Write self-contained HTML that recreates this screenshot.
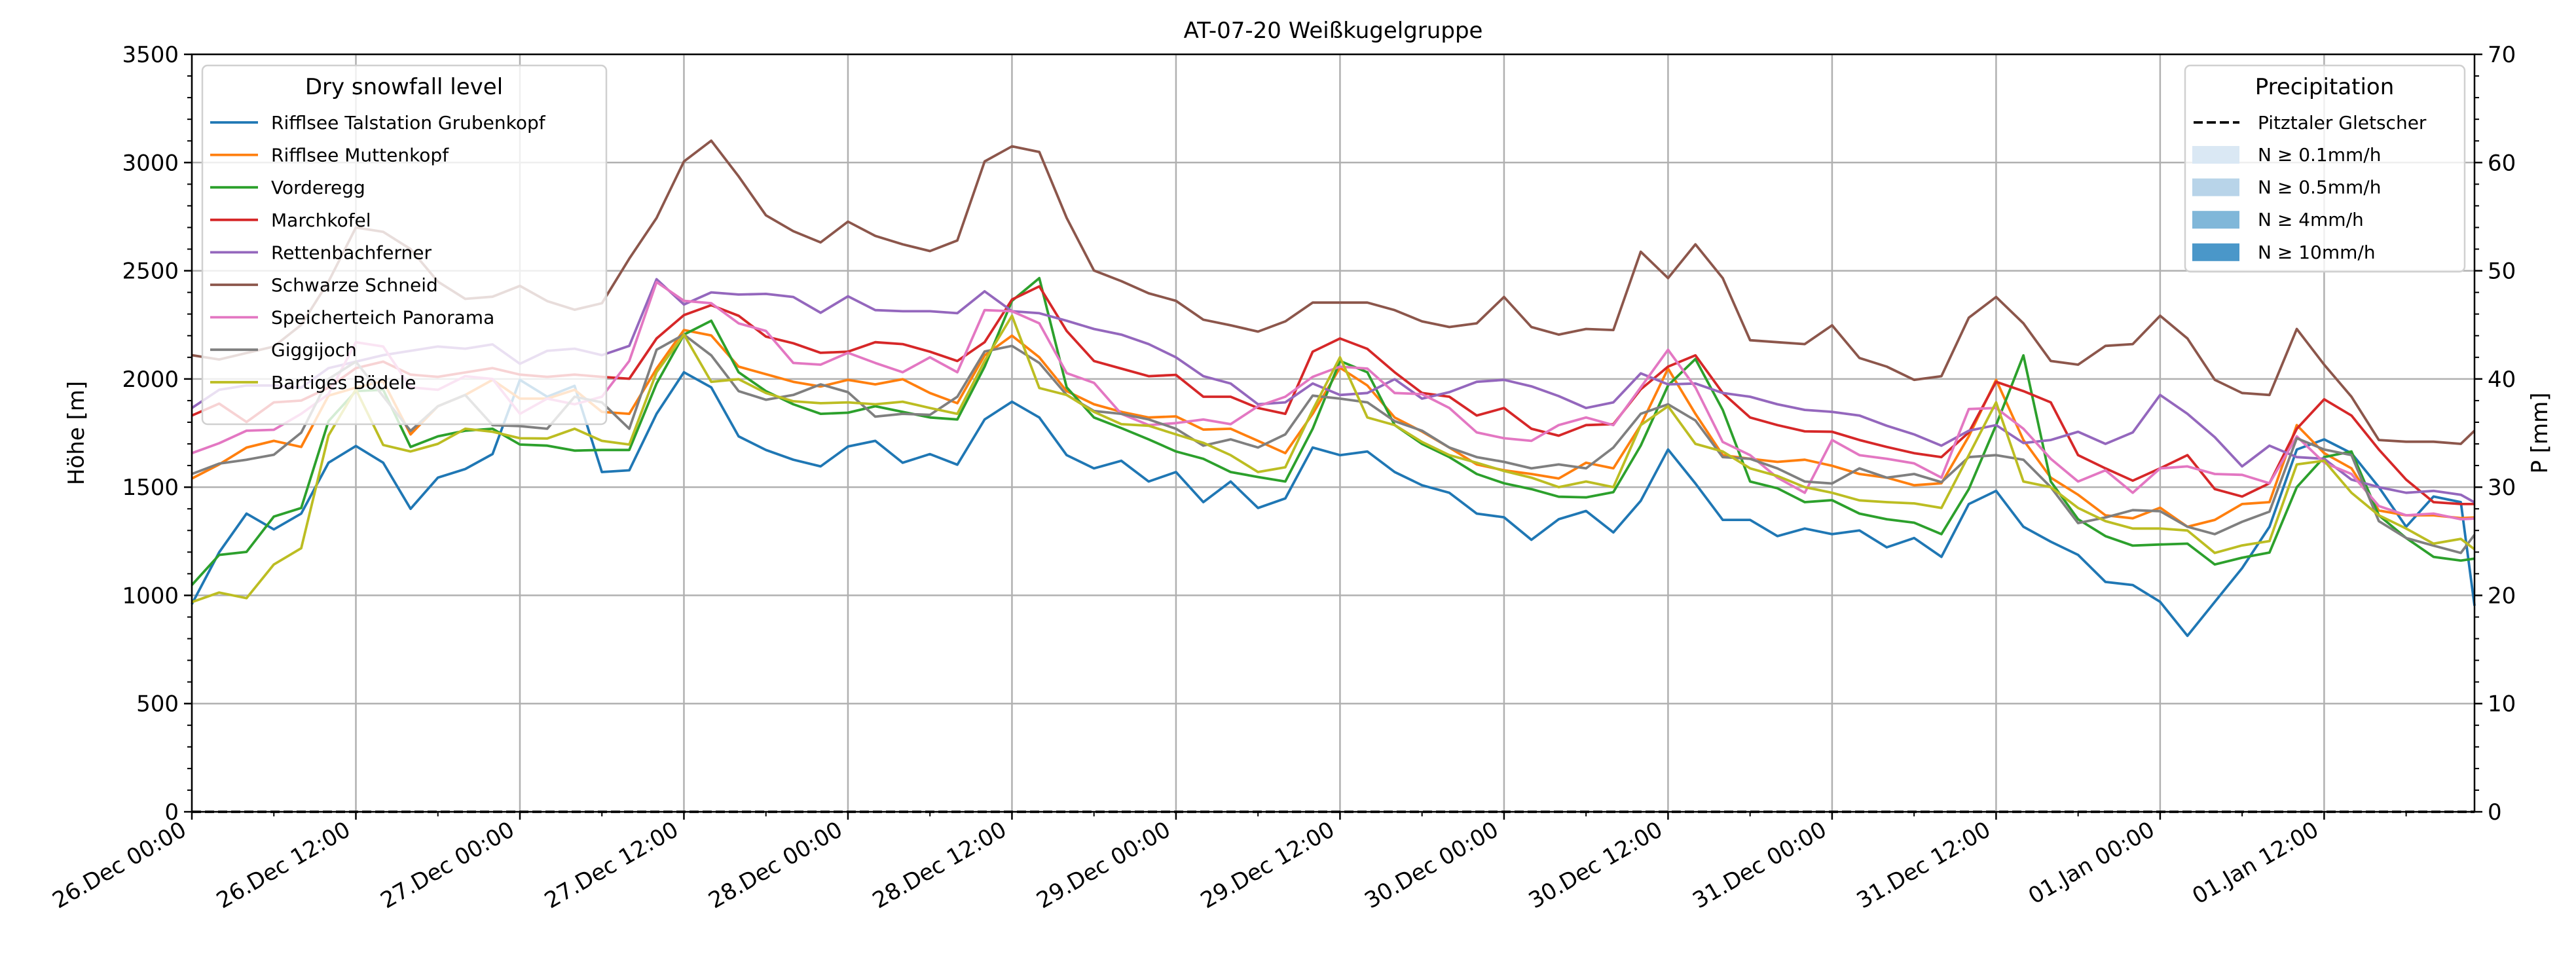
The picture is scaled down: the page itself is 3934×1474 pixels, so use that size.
<!DOCTYPE html>
<html><head><meta charset="utf-8"><style>
html,body{margin:0;padding:0;background:#fff;}
svg{display:block;font-family:"DejaVu Sans","Liberation Sans",sans-serif;}
</style></head><body>
<svg id="chart" width="3934" height="1474" viewBox="0 0 3934 1474" xmlns="http://www.w3.org/2000/svg">
<text x="2036" y="58" font-size="34" text-anchor="middle">AT-07-20 Weißkugelgruppe</text>
<g id="grid"></g><g id="series"></g><g id="axes"></g><g id="legends"></g>
</svg>
<script>
const seriesNames = ["Rifflsee Talstation Grubenkopf","Rifflsee Muttenkopf","Vorderegg","Marchkofel","Rettenbachferner","Schwarze Schneid","Speicherteich Panorama","Giggijoch","Bartiges Bödele"];
const seriesColors = ["#1f77b4","#ff7f0e","#2ca02c","#d62728","#9467bd","#8c564b","#e377c2","#7f7f7f","#bcbd22"];
const xTickLabels = ["26.Dec 00:00","26.Dec 12:00","27.Dec 00:00","27.Dec 12:00","28.Dec 00:00","28.Dec 12:00","29.Dec 00:00","29.Dec 12:00","30.Dec 00:00","30.Dec 12:00","31.Dec 00:00","31.Dec 12:00","01.Jan 00:00","01.Jan 12:00"];
const yTicks = [0,500,1000,1500,2000,2500,3000,3500];
const pTicks = [0,10,20,30,40,50,60,70];
const precipValues = [0,0];
const sBlue = [960,1199,1378,1305,1378,1613,1690,1613,1400,1544,1584,1653,1996,1918,1968,1570,1578,1839,2031,1961,1735,1672,
1627,1596,1688,1714,1613,1653,1604,1813,1895,1822,1648,1587,1622,1526,1570,1431,1526,1404,1448,1683,1648,
1665,1570,1509,1474,1378,1361,1257,1352,1390,1291,1437,1674,1517,1349,1349,1274,1309,1283,1300,1222,
1265,1178,1422,1483,1317,1248,1187,1062,1048,970,813,970,1126,1317,1674,1721,1657,1500,1317,1457,1431,952];
const sOrange = [1540,1605,1683,1714,1686,1923,1960,1990,1744,1874,1926,1996,1909,1909,1950,1848,1839,2048,2226,2201,2057,2022,
1987,1965,1996,1975,1999,1935,1888,2109,2200,2100,1944,1883,1848,1822,1827,1766,1770,1714,1657,1839,2052,
1970,1822,1757,1683,1605,1578,1561,1540,1613,1587,1787,2048,1839,1648,1631,1617,1627,1599,1561,1544,
1509,1518,1735,1996,1718,1544,1465,1370,1356,1405,1317,1349,1422,1431,1787,1657,1587,1392,1370,1370,1357,1360];
const sGreen = [1048,1187,1201,1364,1404,1805,1944,1950,1686,1735,1761,1770,1697,1692,1669,1672,1672,1979,2205,2269,2031,1944,
1883,1839,1844,1874,1848,1822,1813,2057,2361,2466,1961,1822,1773,1721,1665,1631,1570,1547,1526,1770,2083,
2031,1787,1700,1639,1561,1518,1491,1456,1453,1477,1692,1970,2092,1857,1526,1495,1431,1440,1378,1352,
1336,1283,1491,1787,2109,1526,1352,1274,1230,1235,1239,1143,1174,1198,1500,1639,1665,1370,1265,1178,1161,1170];
const sRed = [1831,1886,1801,1892,1900,1960,2050,2080,2020,2010,2030,2050,2020,2010,2020,2010,2001,2187,2295,2341,2292,2196,
2165,2121,2126,2170,2161,2126,2083,2170,2367,2428,2222,2083,2048,2013,2019,1918,1918,1866,1839,2126,2187,
2139,2031,1935,1918,1831,1866,1770,1738,1787,1791,1952,2057,2109,1935,1822,1787,1758,1756,1718,1686,
1657,1639,1753,1987,1944,1892,1648,1587,1530,1587,1648,1491,1457,1518,1770,1906,1831,1674,1535,1431,1422,1422];
const sPurple = [1866,1950,1970,1970,1960,2050,2080,2110,2130,2150,2140,2160,2070,2130,2140,2110,2153,2461,2344,2400,2390,2393,
2379,2306,2382,2318,2313,2313,2304,2405,2313,2304,2269,2231,2205,2161,2100,2013,1979,1883,1892,1979,1926,
1935,1999,1909,1939,1987,1996,1966,1921,1866,1892,2026,1975,1979,1935,1918,1883,1857,1848,1831,1784,
1744,1692,1761,1787,1704,1718,1756,1700,1753,1926,1839,1731,1596,1692,1639,1631,1535,1500,1474,1483,1465,1430];
const sBrown = [2110,2090,2120,2150,2250,2450,2700,2680,2600,2450,2370,2380,2430,2360,2320,2350,2556,2744,3005,3101,2936,2756,
2683,2631,2727,2661,2622,2591,2640,3005,3075,3049,2744,2501,2452,2396,2361,2274,2248,2219,2266,2353,2353,
2353,2318,2266,2240,2257,2379,2240,2205,2231,2226,2588,2466,2622,2466,2179,2170,2161,2248,2097,2057,
1996,2013,2283,2379,2257,2083,2066,2153,2161,2292,2187,1996,1935,1926,2231,2066,1918,1718,1710,1710,1700,1761];
const sPink = [1657,1703,1761,1765,1839,1930,2170,2150,1961,1950,2013,2000,1839,1909,1883,1918,2083,2448,2361,2350,2257,2222,
2074,2066,2121,2074,2031,2100,2031,2318,2313,2257,2027,1982,1839,1787,1796,1813,1791,1874,1918,2010,2057,
2048,1935,1930,1866,1753,1726,1714,1787,1822,1787,1961,2135,1961,1709,1648,1544,1474,1718,1648,1631,
1610,1544,1861,1866,1770,1631,1526,1578,1474,1587,1596,1561,1557,1518,1735,1613,1561,1413,1370,1378,1352,1355];
const sGray = [1561,1609,1627,1650,1752,2000,2080,1920,1760,1874,1926,1787,1782,1770,1918,1892,1770,2135,2205,2109,1944,1904,
1926,1975,1939,1826,1839,1834,1918,2127,2153,2074,1926,1852,1839,1813,1770,1692,1721,1683,1744,1923,1909,
1892,1805,1761,1683,1639,1617,1587,1605,1587,1683,1839,1883,1808,1639,1631,1587,1526,1517,1587,1544,
1561,1523,1639,1648,1627,1500,1334,1360,1394,1389,1317,1283,1340,1387,1726,1674,1648,1343,1265,1230,1196,1280];
const sOlive = [969,1013,987,1143,1218,1739,1952,1695,1665,1700,1770,1756,1726,1725,1770,1714,1697,2031,2205,1987,1999,1935,
1897,1888,1892,1883,1895,1866,1839,2083,2292,1958,1926,1848,1791,1784,1744,1705,1648,1570,1592,1857,2100,
1822,1787,1709,1648,1613,1575,1544,1500,1526,1500,1787,1874,1700,1665,1587,1552,1500,1474,1439,1431,
1425,1404,1648,1892,1526,1500,1404,1343,1309,1309,1300,1196,1231,1251,1605,1622,1474,1370,1309,1239,1261,1213];
const allSeries = [sBlue,sOrange,sGreen,sRed,sPurple,sBrown,sPink,sGray,sOlive];

const NS="http://www.w3.org/2000/svg";
const X0=293,X1=3779,Y0=1240,Y1=83,HMAX=167,VMAX=3500,PMAX=70;
function xs(h){return X0+(X1-X0)*h/HMAX;}
function ys(v){return Y0-(Y0-Y1)*v/VMAX;}
function yp(p){return Y0-(Y0-Y1)*p/PMAX;}
function mk(tag,attrs,parent){const e=document.createElementNS(NS,tag);for(const k in attrs)e.setAttribute(k,attrs[k]);parent.appendChild(e);return e;}
const grid=document.getElementById('grid'),ser=document.getElementById('series'),axes=document.getElementById('axes'),leg=document.getElementById('legends');

// grid
for(let i=0;i<xTickLabels.length;i++){const l=mk('line',{x1:xs(i*12),x2:xs(i*12),y1:Y1,y2:Y0,stroke:'#b0b0b0','stroke-width':2.5},grid);

}
yTicks.forEach(v=>{const l=mk('line',{x1:X0,x2:X1,y1:ys(v),y2:ys(v),stroke:'#b0b0b0','stroke-width':2.5},grid);

});

// series
allSeries.forEach((arr,si)=>{
  const pts=arr.map((v,i)=>xs(Math.min(i*2,HMAX)).toFixed(1)+','+ys(v).toFixed(1)).join(' ');
  const p=mk('polyline',{points:pts,fill:'none',stroke:seriesColors[si],'stroke-width':3.8,'stroke-linejoin':'round'},ser);
  
  
});
// precipitation dashed line
const pl=mk('line',{x1:X0,x2:X1,y1:yp(precipValues[0]),y2:yp(precipValues[1]),stroke:'#000','stroke-width':3.8,'stroke-dasharray':'14,6'},ser);



// axes frame
const fr=mk('rect',{x:X0,y:Y1,width:X1-X0,height:Y0-Y1,fill:'none',stroke:'#000','stroke-width':2.5},axes);


// left ticks
for(let v=0;v<=VMAX;v+=100){const major=v%500===0;mk('line',{x1:X0,x2:X0-(major?12:7),y1:ys(v),y2:ys(v),stroke:'#000','stroke-width':major?2.5:2},axes);}
yTicks.forEach(v=>{const t=mk('text',{x:X0-20,y:ys(v)+12,'font-size':34,'text-anchor':'end'},axes);t.textContent=v;

});
// right ticks
for(let p=0;p<=PMAX;p+=2){const major=p%10===0;mk('line',{x1:X1,x2:X1+(major?12:7),y1:yp(p),y2:yp(p),stroke:'#000','stroke-width':major?2.5:2},axes);}
pTicks.forEach(p=>{const t=mk('text',{x:X1+20,y:yp(p)+12,'font-size':34,'text-anchor':'start'},axes);t.textContent=p;

});
// x ticks
for(let h=0;h<=HMAX;h+=6){const major=h%12===0;mk('line',{x1:xs(h),x2:xs(h),y1:Y0,y2:Y0+(major?12:7),stroke:'#000','stroke-width':major?2.5:2},axes);}
xTickLabels.forEach((lab,i)=>{const x=xs(i*12)-6,y=Y0+34;
const t=mk('text',{x:x,y:y,'font-size':34,'text-anchor':'end',transform:'rotate(-30 '+x+' '+y+')'},axes);t.textContent=lab;

});
// axis titles
const yl=mk('text',{x:0,y:0,'font-size':34,'text-anchor':'middle',transform:'translate(128 '+((Y0+Y1)/2)+') rotate(-90)'},axes);yl.textContent='Höhe [m]';


const pr=mk('text',{x:0,y:0,'font-size':34,'text-anchor':'middle',transform:'translate(3890 '+((Y0+Y1)/2)+') rotate(-90)'},axes);pr.textContent='P [mm]';



// legend 1
const lg1=mk('g',{},leg);


mk('rect',{x:309,y:100,width:617,height:548,rx:8,fill:'#fff','fill-opacity':0.8,stroke:'#d0d0d0','stroke-width':2.5},lg1);
const t1=mk('text',{x:617,y:144,'font-size':34,'text-anchor':'middle'},lg1);t1.textContent='Dry snowfall level';
seriesNames.forEach((n,i)=>{const y=187+i*49.6;
const e=mk('g',{},lg1);


mk('line',{x1:321,x2:394,y1:y,y2:y,stroke:seriesColors[i],'stroke-width':3.8},e);
const t=mk('text',{x:414,y:y+10,'font-size':28},e);t.textContent=n;});
// legend 2
const lg2=mk('g',{},leg);


mk('rect',{x:3337,y:100,width:427,height:315,rx:8,fill:'#fff','fill-opacity':0.8,stroke:'#d0d0d0','stroke-width':2.5},lg2);
const t2=mk('text',{x:3550,y:144,'font-size':34,'text-anchor':'middle'},lg2);t2.textContent='Precipitation';
const e0=mk('g',{},lg2);


mk('line',{x1:3350,x2:3420,y1:187,y2:187,stroke:'#000','stroke-width':3.8,'stroke-dasharray':'14,6'},e0);
const te=mk('text',{x:3448,y:197,'font-size':28},e0);te.textContent='Pitztaler Gletscher';
const patchLabels=["N ≥ 0.1mm/h","N ≥ 0.5mm/h","N ≥ 4mm/h","N ≥ 10mm/h"];
const patchColors=["#dae8f4","#b8d4e9","#80b7d9","#4a97c9"];
patchLabels.forEach((n,i)=>{const y=236+i*49.6;
const e=mk('g',{},lg2);


mk('rect',{x:3348,y:y-13,width:72,height:27,fill:patchColors[i]},e);
const t=mk('text',{x:3448,y:y+10,'font-size':28},e);t.textContent=n;});
</script>
</body></html>
